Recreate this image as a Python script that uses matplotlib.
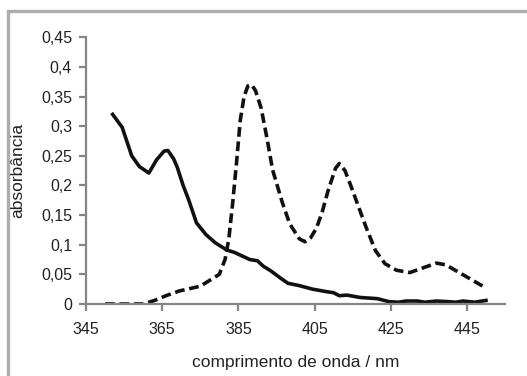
import numpy as np
import matplotlib.pyplot as plt
from matplotlib.patches import Rectangle
from matplotlib.ticker import FuncFormatter

plt.rcParams['font.family'] = ['Liberation Sans', 'DejaVu Sans']

# solid curve
wl_a = [352, 354.5, 357, 359, 361.5, 363.5, 365.5, 366.5, 368, 369, 370.5, 372, 374,
        376.5, 379, 382, 384, 386, 388, 390, 391.5, 393.5, 396, 398, 401, 404.5, 408,
        410, 411.5, 413.5, 417, 421.5, 424.5, 427, 429, 432, 434, 437, 440, 442, 444,
        447, 450]
abs_a = [0.32, 0.298, 0.25, 0.232, 0.221, 0.243, 0.258, 0.259, 0.245, 0.23, 0.2, 0.175,
         0.137, 0.117, 0.103, 0.091, 0.087, 0.081, 0.075, 0.073, 0.064, 0.056, 0.044,
         0.035, 0.031, 0.025, 0.021, 0.019, 0.014, 0.015, 0.011, 0.009, 0.004, 0.003,
         0.005, 0.005, 0.003, 0.005, 0.004, 0.003, 0.005, 0.003, 0.006]

# dashed curve
wl_b = [350, 355, 360, 363, 366, 369.5, 375, 377.5, 380, 381.5, 382.5, 383.5, 384.5,
        385.5, 386.5, 387.5, 388.5, 389.5, 391, 392.5, 394, 396.5, 398.5, 401, 402.5,
        404, 405.5, 407, 408.5, 410.5, 411.5, 413, 414.5, 416.5, 418.5, 421, 423.5,
        426.5, 430, 433.5, 437, 439.5, 443, 446.5, 450]
abs_b = [0, 0, 0, 0.006, 0.014, 0.022, 0.03, 0.04, 0.05, 0.075, 0.11, 0.17, 0.237, 0.31,
         0.35, 0.368, 0.37, 0.36, 0.33, 0.28, 0.226, 0.172, 0.135, 0.11, 0.105, 0.112,
         0.128, 0.155, 0.19, 0.229, 0.237, 0.225, 0.2, 0.165, 0.13, 0.09, 0.068, 0.057,
         0.053, 0.061, 0.069, 0.066, 0.053, 0.04, 0.027]

xticks = [345, 365, 385, 405, 425, 445]
yticks = np.arange(0, 0.451, 0.05)

fig = plt.figure(figsize=(5.27, 3.76), dpi=100)
fig.patches.append(Rectangle((8 / 527, -0.1), 1.1, 1.1 - 11 / 376,
                             transform=fig.transFigure, fill=False,
                             edgecolor='#adadad', lw=2.4))
ax = fig.add_axes([86 / 527, 1 - 304 / 376, 419 / 527, (304 - 37.3) / 376])

ax.plot(wl_a, abs_a, color='#111111', lw=2.6, solid_joinstyle='round')
ax.plot(wl_b, abs_b, color='#111111', lw=2.6, dashes=(2.7, 1.3))

ax.set_xlim(345, 455)
ax.set_ylim(0, 0.45)
ax.set_xticks(xticks)
ax.set_yticks(yticks)
ax.yaxis.set_major_formatter(FuncFormatter(lambda v, p: ('%g' % round(v, 2)).replace('.', ',')))

for s in ['top', 'right']:
    ax.spines[s].set_visible(False)
for s in ['left', 'bottom']:
    ax.spines[s].set_color('#858585')
    ax.spines[s].set_linewidth(1.6)
ax.tick_params(colors='#858585', width=1.6, length=5, labelcolor='#222222', labelsize=11.5)
ax.tick_params(axis='x', pad=8)
ax.tick_params(axis='y', pad=5)

ax.set_xlabel('comprimento de onda / nm', fontsize=12.5, color='#222222')
ax.set_ylabel('absorbância', fontsize=12.5, color='#222222')
ax.xaxis.set_label_coords(0.5, -51 / 266.7)
ax.yaxis.set_label_coords(-61 / 419, 0.5)

plt.savefig('out.png', dpi=100)
